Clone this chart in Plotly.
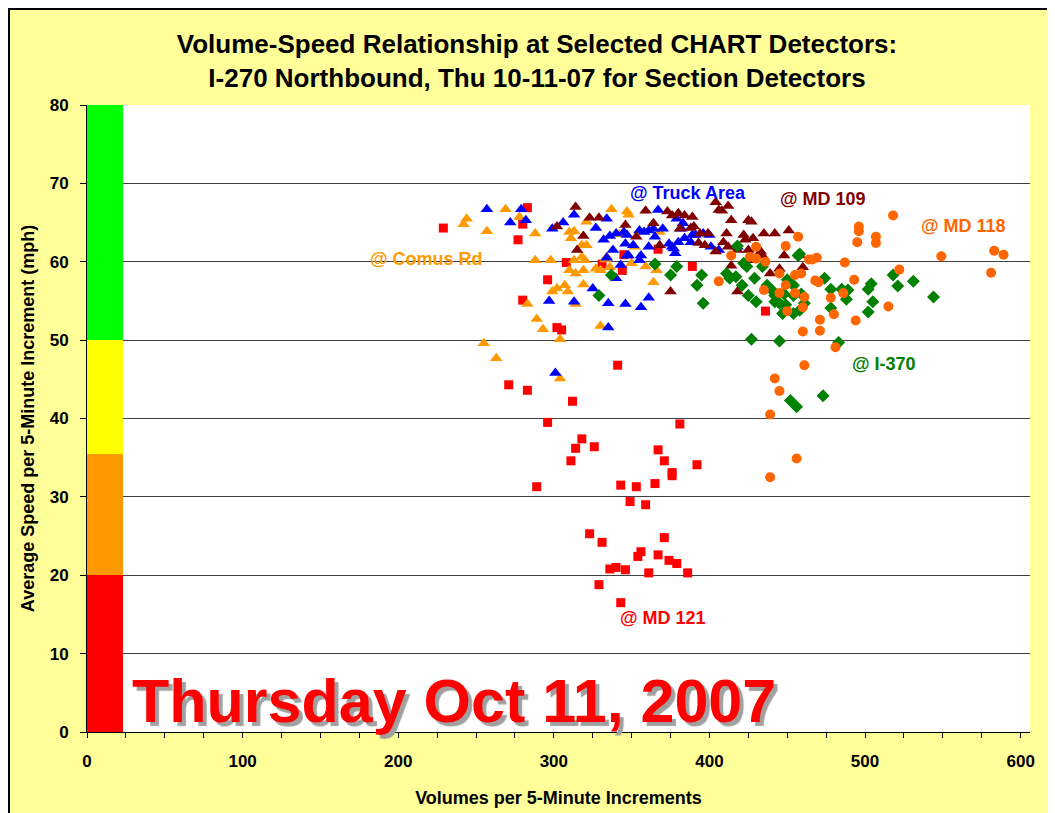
import plotly.graph_objects as go

# ---------------- data ----------------
md121_v = [229, 283, 280, 277, 308, 296, 280, 302, 305, 331, 344, 345, 367, 389, 436, 341, 271, 283, 312, 296,
           381, 318, 314, 326, 311, 367, 371, 376, 376, 392, 289, 343, 353, 365, 349, 359, 323, 331, 371, 356,
           354, 367, 374, 379, 336, 340, 346, 361, 386, 329, 343]
md121_s = [64.3, 66.9, 64.8, 62.8, 59.9, 57.7, 55.1, 51.6, 51.3, 59.7, 58.9, 60.9, 61.6, 59.4, 53.7, 46.8, 44.3, 43.6, 42.2, 39.5,
           39.3, 37.4, 36.2, 36.4, 34.6, 36.0, 34.6, 33.1, 32.7, 34.1, 31.3, 31.5, 31.3, 31.7, 29.4, 29.0, 25.3, 24.2, 24.8, 23.0,
           22.4, 22.6, 21.9, 21.5, 20.8, 21.0, 20.7, 20.3, 20.3, 18.8, 16.5]

comus_v = [244, 242, 257, 269, 278, 288, 288, 298, 310, 313, 311, 321, 337, 318, 321, 313, 318, 320, 310, 314,
           319, 327, 330, 334, 333, 336, 307, 302, 299, 309, 319, 283, 314, 289, 293, 330, 347, 342, 304, 255,
           263, 304, 348, 352, 350, 359, 366, 364, 368]
comus_s = [65.5, 64.8, 63.9, 66.7, 65.7, 63.6, 60.2, 60.2, 63.8, 63.9, 63.0, 65.1, 66.7, 62.1, 62.1, 60.2, 60.6, 60.2, 58.9, 58.5,
           58.9, 59.1, 58.9, 60.6, 60.3, 59.3, 57.0, 56.6, 56.2, 56.2, 57.1, 54.6, 54.6, 52.7, 51.4, 51.8, 66.4, 63.5, 50.1, 49.6,
           47.7, 45.1, 66.0, 61.9, 59.8, 59.4, 58.9, 57.4, 63.8]

truck_v = [257, 279, 272, 282, 299, 306, 313, 327, 334, 332, 336, 340, 345, 347, 346, 338, 334, 347, 343, 340,
           325, 297, 313, 335, 346, 335, 301, 367, 355, 358, 361, 364, 370, 379, 383, 382, 351, 365, 361, 374,
           376, 377, 378, 380, 384, 388, 389, 391, 396, 400, 401, 406, 418, 356, 355, 348, 361, 356]
truck_s = [66.7, 66.7, 65.0, 65.3, 64.2, 65.0, 66.0, 64.3, 65.5, 62.8, 63.3, 63.6, 63.8, 63.4, 62.3, 61.5, 60.5, 60.8, 59.6, 57.9,
           56.6, 55.0, 54.9, 54.7, 54.6, 51.6, 45.8, 66.6, 64.0, 63.8, 64.0, 64.2, 64.2, 65.5, 64.9, 64.2, 62.1, 63.2, 61.9, 62.3,
           61.9, 61.7, 61.1, 62.5, 63.0, 62.5, 63.4, 63.4, 63.6, 63.4, 61.9, 61.5, 61.9, 60.8, 60.2, 60.8, 55.4, 54.2]

md109_v = [314, 323, 329, 302, 319, 315, 346, 353, 359, 364, 373, 376, 380, 384, 389, 368, 381, 388, 390, 394,
           399, 393, 397, 404, 406, 408, 412, 414, 404, 411, 409, 412, 418, 422, 423, 428, 425, 427, 435, 442,
           451, 425, 426, 433, 434, 414, 439, 445, 448, 458, 460, 375, 418]
md109_s = [67.0, 65.6, 65.6, 64.5, 63.3, 61.5, 64.7, 63.2, 66.5, 64.9, 66.4, 65.9, 66.2, 65.9, 65.7, 62.1, 64.2, 64.3, 64.5, 63.6,
           63.6, 62.4, 62.1, 67.6, 66.6, 66.5, 67.1, 65.3, 61.3, 63.6, 62.5, 61.9, 61.5, 63.4, 62.8, 63.0, 65.3, 65.1, 63.6, 63.6,
           64.0, 61.5, 60.2, 61.3, 60.8, 59.5, 58.5, 59.1, 60.8, 60.8, 59.3, 56.2, 56.2]

i370_v = [337, 329, 365, 379, 375, 395, 392, 396, 418, 422, 424, 411, 413, 417, 429, 434, 437, 421, 425, 430,
          440, 442, 448, 442, 445, 449, 450, 454, 459, 454, 461, 458, 454, 447, 457, 458, 427, 445, 483, 452,
          456, 473, 474, 478, 485, 489, 488, 478, 504, 502, 505, 502, 518, 521, 531, 544]
i370_s = [58.3, 55.7, 59.7, 59.4, 58.3, 58.3, 57.0, 54.7, 62.0, 59.8, 59.4, 58.5, 57.9, 58.1, 57.9, 59.4, 57.0, 57.0, 55.7, 54.9,
          56.4, 55.7, 55.9, 54.9, 54.7, 54.5, 57.7, 57.0, 55.9, 55.7, 54.7, 53.8, 53.4, 53.4, 60.8, 61.0, 50.1, 49.9, 49.7, 42.3,
          41.5, 42.9, 57.9, 56.5, 56.5, 56.4, 55.2, 54.1, 57.2, 56.5, 54.9, 53.6, 58.3, 56.9, 57.5, 55.5]

md118_v = [518, 496, 496, 495, 507, 507, 469, 466, 487, 549, 583, 589, 581, 522, 493, 468, 470, 486, 478, 515,
           480, 471, 494, 471, 457, 449, 430, 414, 426, 430, 436, 406, 445, 455, 459, 464, 449, 435, 445, 455,
           461, 450, 460, 460, 481, 461, 442, 445, 439, 456, 439]
md118_s = [65.9, 64.5, 63.9, 62.5, 63.2, 62.4, 60.5, 60.3, 59.9, 60.7, 61.4, 60.9, 58.6, 59.0, 57.7, 57.6, 57.4, 56.0, 55.4, 54.3,
           53.3, 52.6, 52.5, 51.2, 63.2, 62.0, 61.9, 60.8, 60.6, 60.4, 60.0, 57.5, 58.5, 58.3, 58.5, 60.3, 57.0, 56.4, 56.0, 56.0,
           55.5, 53.7, 51.1, 54.2, 49.1, 46.8, 45.1, 43.5, 40.5, 34.9, 32.5]

# speed bands drawn at the left edge of the plot
band_bottom = [50, 35.5, 20, 0]
band_top = [80, 50, 35.5, 20]
band_colors = ["#00FF00", "#FFFF00", "#FF9900", "#FF0000"]
band_x0, band_x1 = 0, 23.1

x_ticks = [0, 100, 200, 300, 400, 500, 600]
y_ticks = [0, 10, 20, 30, 40, 50, 60, 70, 80]

labels = ["@ Comus Rd", "@ Truck Area", "@ MD 109", "@ MD 118", "@ I-370", "@ MD 121"]
label_x = [218, 386, 473, 563, 512, 370]
label_y = [60.3, 68.8, 68.0, 64.5, 47.0, 14.5]
label_colors = ["#FF9900", "#0000FF", "#800000", "#FF6600", "#008000", "#FF0000"]

title_lines = ["Volume-Speed Relationship at Selected CHART Detectors:",
               "I-270 Northbound, Thu 10-11-07 for Section Detectors"]
x_title = "Volumes per 5-Minute Increments"
y_title = "Average Speed per 5-Minute Increment (mph)"
stamp_text = "Thursday Oct 11, 2007"

# ---------------- figure ----------------
# the page body has an 8px margin, so the figure is sized/placed accordingly
W, H = 1047, 805
L, R, T, B = 79, 25, 97, 81
pw, ph = W - L - R, H - T - B
FONT = "Liberation Sans, Arial, sans-serif"

fig = go.Figure()

fig.add_trace(go.Bar(
    x=[(band_x0 + band_x1) / 2] * len(band_top),
    y=[t - b for t, b in zip(band_top, band_bottom)],
    base=band_bottom, width=band_x1 - band_x0,
    marker=dict(color=band_colors, line=dict(width=0)),
    hoverinfo="skip", showlegend=False))

series = [
    (md121_v, md121_s, "square", "#FF0000", 9),
    (comus_v, comus_s, "triangle-up", "#FF9900", 11),
    (truck_v, truck_s, "triangle-up", "#0000FF", 11),
    (md109_v, md109_s, "triangle-up", "#800000", 11),
    (i370_v, i370_s, "diamond", "#008000", 10),
    (md118_v, md118_s, "circle", "#FF6600", 10),
]
for vx, vy, sym, col, sz in series:
    fig.add_trace(go.Scatter(x=vx, y=vy, mode="markers",
                             marker=dict(symbol=sym, color=col, size=sz, line=dict(width=0)),
                             showlegend=False, hoverinfo="skip"))

for txt, lx, ly, lc in zip(labels, label_x, label_y, label_colors):
    fig.add_annotation(x=lx, y=ly, text=f"<b>{txt}</b>", showarrow=False,
                       font=dict(family=FONT, size=18, color=lc))

# big date stamp with drop shadow
fig.add_annotation(x=236, y=3.9, text=f"<b>{stamp_text}</b>", showarrow=False,
                   font=dict(family=FONT, size=61, color="#FF0000",
                             shadow="4px 4px 1px #A0A0A0"))

# outer black border of the chart
fig.add_shape(type="rect", xref="paper", yref="paper",
              x0=(1 - L) / pw, x1=(1041 - L) / pw,
              y0=(H - B - 830) / ph, y1=(H - B - 1) / ph,
              line=dict(color="black", width=2), fillcolor="rgba(0,0,0,0)", layer="below")

fig.update_layout(
    width=W, height=H,
    margin=dict(l=L, r=R, t=T, b=B, pad=0, autoexpand=False),
    paper_bgcolor="#FFFF99", plot_bgcolor="white",
    barmode="overlay", bargap=0,
    title=dict(text="<b>" + "<br>".join(title_lines) + "</b>",
               x=529 / W, xanchor="center", y=1 - 45 / H, yanchor="middle",
               font=dict(family=FONT, size=26, color="black")),
    font=dict(family=FONT, color="black"),
    xaxis=dict(range=[0, 606], tickvals=x_ticks, ticktext=[f"<b>{v}</b>" for v in x_ticks],
               ticks="outside", ticklen=5, tickcolor="black", showgrid=False, zeroline=False,
               showline=True, linecolor="black", linewidth=1, automargin=False,
               minor=dict(dtick=25, tick0=0, ticks="outside", ticklen=5, tickcolor="black", showgrid=False),
               tickfont=dict(size=17), ticklabelstandoff=9,
               title=dict(text=f"<b>{x_title}</b>", font=dict(size=18), standoff=20)),
    yaxis=dict(range=[0, 80], tickvals=y_ticks, ticktext=[f"<b>{v}</b>" for v in y_ticks],
               ticks="outside", ticklen=6, tickcolor="black", showgrid=True, gridcolor="#404040", gridwidth=1,
               zeroline=False, showline=True, linecolor="black", linewidth=1, mirror=False, automargin=False,
               tickfont=dict(size=17), ticklabelstandoff=8,
               title=dict(text=f"<b>{y_title}</b>", font=dict(size=18), standoff=10)),
)

fig.write_html("out.html")
